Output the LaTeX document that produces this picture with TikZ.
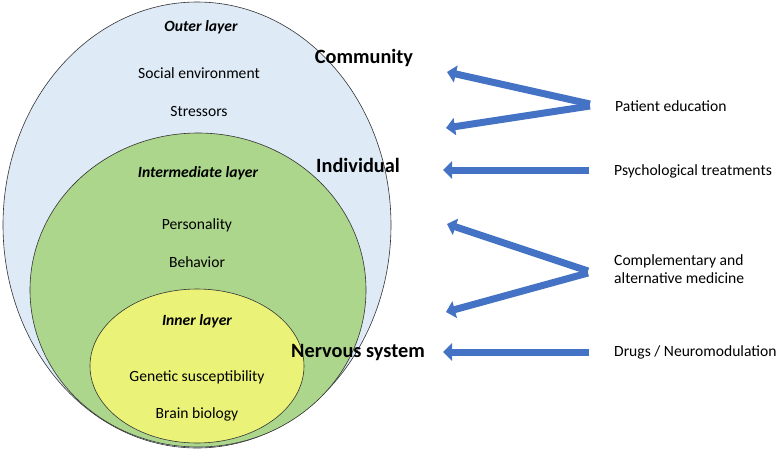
\documentclass[tikz,border=0pt]{standalone}
\usepackage{fontspec}
\setmainfont{Carlito}
\usetikzlibrary{arrows.meta}
\definecolor{outerfill}{RGB}{222,234,246}
\definecolor{midfill}{RGB}{172,214,140}
\definecolor{innerfill}{RGB}{234,242,120}
\definecolor{arrowblue}{RGB}{68,114,196}
\tikzset{
  layer/.style={draw=black!80, line width=0.6pt},
  txt/.style={font=\fontsize{15.6}{18}\selectfont, inner sep=0pt},
  ttl/.style={font=\fontsize{15.6}{18}\selectfont\bfseries\itshape, inner sep=0pt},
  lvl/.style={font=\fontsize{20.3}{24}\selectfont\bfseries, inner sep=0pt},
  rtxt/.style={font=\fontsize{15.6}{18.5}\selectfont, inner sep=0pt, anchor=west, align=left},
  blockarrow/.style={draw=arrowblue, line width=7pt, -{Triangle[length=9pt,width=17pt]}}
}
\begin{document}
\begin{tikzpicture}[x=1pt,y=-1pt]
\useasboundingbox (0,0) rectangle (777,451);
% ellipses
\draw[layer, fill=outerfill] (197,225) ellipse [x radius=194, y radius=223];
\draw[layer, fill=midfill] (198,290) ellipse [x radius=168, y radius=157];
\draw[layer, fill=innerfill] (197,366) ellipse [x radius=107, y radius=77];
% layer texts
\node[ttl] (outer) at (201,27) {Outer layer};
\node[txt] (social) at (199,73) {Social environment};
\node[txt] (stress) at (199,111) {Stressors};
\node[ttl] (mid) at (198,173) {Intermediate layer};
\node[txt] (pers) at (197,225) {Personality};
\node[txt] (behav) at (197,262) {Behavior};
\node[ttl] (inner) at (197,321) {Inner layer};
\node[txt] (gen) at (197,377) {Genetic susceptibility};
\node[txt] (brain) at (197,414) {Brain biology};
% level labels
\node[lvl] (comm) at (364,58) {Community};
\node[lvl] (indiv) at (358,165) {Individual};
\node[lvl] (nerv) at (358,353) {Nervous system};
% right texts
\node[rtxt] (pe) at (615,106) {Patient education};
\node[rtxt] (pt) at (614,171) {Psychological treatments};
\node[rtxt] (cam) at (614,269) {Complementary and\\alternative medicine};
\node[rtxt] (dn) at (614,352) {Drugs / Neuromodulation};
% arrow coordinates
\coordinate (a1s) at (590,104);
\coordinate (a1e) at (447,72);
\coordinate (a2s) at (590,106);
\coordinate (a2e) at (446,128);
\coordinate (a3s) at (589,170);
\coordinate (a3e) at (443,170);
\coordinate (a4s) at (588,271);
\coordinate (a4e) at (447,224);
\coordinate (a5s) at (588,273);
\coordinate (a5e) at (446,312);
\coordinate (a6s) at (589,352);
\coordinate (a6e) at (443,352);
\draw[blockarrow] (a1s) -- (a1e);
\draw[blockarrow] (a2s) -- (a2e);
\draw[blockarrow] (a3s) -- (a3e);
\draw[blockarrow] (a4s) -- (a4e);
\draw[blockarrow] (a5s) -- (a5e);
\draw[blockarrow] (a6s) -- (a6e);
\end{tikzpicture}
\end{document}
